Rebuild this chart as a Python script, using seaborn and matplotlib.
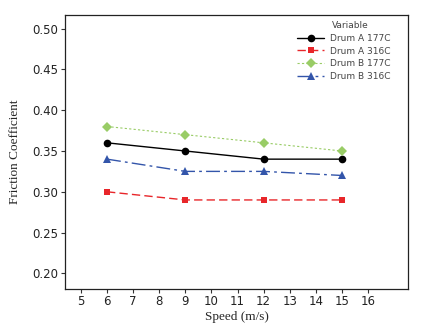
import matplotlib
matplotlib.use("Agg")
import matplotlib.pyplot as plt
import seaborn as sns
import pandas as pd

speed = [6, 9, 12, 15]
drum_a_177 = [0.36, 0.35, 0.34, 0.34]
drum_a_316 = [0.30, 0.29, 0.29, 0.29]
drum_b_177 = [0.38, 0.37, 0.36, 0.35]
drum_b_316 = [0.34, 0.325, 0.325, 0.32]
series_names = ["Drum A 177C", "Drum A 316C", "Drum B 177C", "Drum B 316C"]
x_ticks = list(range(5, 17))
y_ticks = [0.20, 0.25, 0.30, 0.35, 0.40, 0.45, 0.50]

sns.set_style("ticks")
plt.rcParams["font.family"] = ["DejaVu Sans"]

frames = []
for name, vals in zip(series_names, [drum_a_177, drum_a_316, drum_b_177, drum_b_316]):
    frames.append(pd.DataFrame({"Speed": speed, "Friction": vals, "Variable": name}))
df = pd.concat(frames, ignore_index=True)

styles = {
    "Drum A 177C": dict(color="#000000", marker="o", ls="-", ms=5.5, lw=1.0),
    "Drum A 316C": dict(color="#e8262a", marker="s", ls=(0, (6, 3)), ms=5, lw=1.0),
    "Drum B 177C": dict(color="#99cc66", marker="D", ls=(0, (2, 2)), ms=5, lw=0.8),
    "Drum B 316C": dict(color="#3355aa", marker="^", ls=(0, (10, 3, 2, 3)), ms=5.5, lw=1.0),
}

fig = plt.figure(figsize=(4.32, 3.28), dpi=100)
ax = fig.add_axes([65 / 432, 1 - 288.5 / 328, (408 - 65) / 432, (288.5 - 14.7) / 328])

for name in series_names:
    st = styles[name]
    sns.lineplot(data=df[df["Variable"] == name], x="Speed", y="Friction", ax=ax,
                 color=st["color"], marker=st["marker"], linestyle=st["ls"],
                 markersize=st["ms"], linewidth=st["lw"], markeredgewidth=0,
                 label=name)

ax.set_xlim(4.39, 17.53)
ax.set_ylim(0.1815, 0.517)
ax.set_xticks(x_ticks)
ax.set_yticks(y_ticks)
ax.set_yticklabels([f"{v:.2f}" for v in y_ticks])
ax.tick_params(axis="both", labelsize=8.5, length=3, width=0.8, colors="#333333",
               labelcolor="#222222", pad=2)
for s in ax.spines.values():
    s.set_visible(True)
    s.set_linewidth(0.9)
    s.set_color("#222222")

ax.set_xlabel("Speed (m/s)", family="Liberation Serif", fontsize=9.5, labelpad=2)
ax.set_ylabel("Friction Coefficient", family="Liberation Serif", fontsize=9.5, labelpad=8)

# legend entries, with the "Variable" heading aligned over the entry labels
leg = ax.legend(loc="upper left", bbox_to_anchor=(0.677, 0.93), frameon=False,
                fontsize=6.5, handlelength=3.0, labelspacing=0.42,
                borderaxespad=0, borderpad=0, handletextpad=0.6)
for t in leg.get_texts():
    t.set_color("#444444")
ax.text(0.778, 0.962, "Variable", transform=ax.transAxes, fontsize=6.5,
        color="#444444", ha="left", va="center")

fig.savefig("out.png", dpi=100)
